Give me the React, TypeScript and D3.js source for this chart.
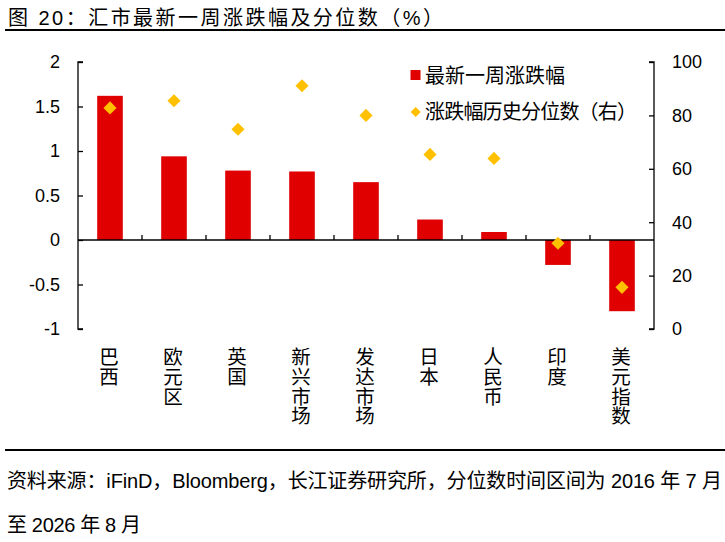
import { useEffect, useRef } from 'react';
import * as d3 from 'd3';

const categories = ['巴西', '欧元区', '英国', '新兴市场', '发达市场', '日本', '人民币', '印度', '美元指数'];
const weeklyChange = [1.62, 0.94, 0.78, 0.77, 0.65, 0.23, 0.09, -0.28, -0.8];
const percentile = [82.8, 85.5, 74.8, 91.1, 80.0, 65.4, 63.9, 32.1, 15.6];
const leftTicks = [-1, -0.5, 0, 0.5, 1, 1.5, 2];
const rightTicks = [0, 20, 40, 60, 80, 100];

const FONT = '"Liberation Sans", Arial, "Noto Sans CJK SC", sans-serif';
const BAR_COLOR = '#E00000';
const DOT_COLOR = '#FFC000';

export default function App() {
  const svgRef = useRef<SVGSVGElement>(null);

  useEffect(() => {
    if (!svgRef.current) return;
    const svg = d3.select(svgRef.current);
    svg.selectAll('*').remove();

    const width = 725;
    const height = 542;
    const plot = { left: 78, right: 654, top: 62, bottom: 329 };

    svg.attr('width', width).attr('height', height).attr('viewBox', `0 0 ${width} ${height}`);

    const xScale = d3.scaleBand()
      .domain(categories)
      .range([plot.left, plot.right])
      .paddingInner(0.6)
      .paddingOuter(0.3);

    const yLeft = d3.scaleLinear().domain([-1, 2]).range([plot.bottom, plot.top]);
    const yRight = d3.scaleLinear().domain([0, 100]).range([plot.bottom, plot.top]);

    // title
    svg.append('text')
      .attr('x', 8)
      .attr('y', 25)
      .attr('font-family', FONT)
      .attr('font-size', 20)
      .attr('fill', '#000')
      .attr('textLength', 435)
      .attr('lengthAdjust', 'spacing')
      .text('图 20：汇市最新一周涨跌幅及分位数（%）');

    svg.append('line')
      .attr('x1', 5).attr('x2', 725)
      .attr('y1', 30).attr('y2', 30)
      .attr('stroke', '#000').attr('stroke-width', 2);

    const g = svg.append('g');

    // bars
    g.selectAll('rect.bar')
      .data(categories)
      .join('rect')
      .attr('class', 'bar')
      .attr('x', (d) => xScale(d) ?? 0)
      .attr('width', xScale.bandwidth())
      .attr('y', (_d, i) => yLeft(Math.max(0, weeklyChange[i])))
      .attr('height', (_d, i) => Math.abs(yLeft(weeklyChange[i]) - yLeft(0)))
      .attr('fill', BAR_COLOR);

    // left axis
    const leftAxis = g.append('g')
      .attr('transform', `translate(${plot.left},0)`)
      .call(d3.axisRight(yLeft).tickValues(leftTicks).tickSize(5).tickFormat(() => ''));
    leftAxis.selectAll('.domain').attr('d', `M5,${plot.top}H0V${plot.bottom}H5`);
    leftAxis.selectAll('line, path').attr('stroke', '#000').attr('stroke-width', 1.3);

    leftTicks.forEach((t) => {
      g.append('text')
        .attr('x', 60)
        .attr('y', yLeft(t))
        .attr('dy', '0.36em')
        .attr('text-anchor', 'end')
        .attr('font-family', FONT)
        .attr('font-size', 18)
        .text(String(t));
    });

    // right axis
    const rightAxis = g.append('g')
      .attr('transform', `translate(${plot.right},0)`)
      .call(d3.axisLeft(yRight).tickValues(rightTicks).tickSize(5).tickFormat(() => ''));
    rightAxis.selectAll('.domain').attr('d', `M-5,${plot.top}H0V${plot.bottom}H-5`);
    rightAxis.selectAll('line, path').attr('stroke', '#000').attr('stroke-width', 1.3);

    rightTicks.forEach((t) => {
      g.append('text')
        .attr('x', 672)
        .attr('y', yRight(t))
        .attr('dy', '0.36em')
        .attr('text-anchor', 'start')
        .attr('font-family', FONT)
        .attr('font-size', 18)
        .text(String(t));
    });

    // zero line with category ticks pointing up
    const y0 = yLeft(0);
    g.append('line')
      .attr('x1', plot.left).attr('x2', plot.right)
      .attr('y1', y0).attr('y2', y0)
      .attr('stroke', '#000').attr('stroke-width', 1.3);

    const step = xScale.step();
    categories.slice(1).forEach((_c, i) => {
      const x = plot.left + (i + 1) * step;
      g.append('line')
        .attr('x1', x).attr('x2', x)
        .attr('y1', y0).attr('y2', y0 - 5)
        .attr('stroke', '#000').attr('stroke-width', 1.3);
    });

    // percentile diamonds
    const diamond = d3.symbol().type(d3.symbolSquare).size(86);
    g.selectAll('path.dot')
      .data(categories)
      .join('path')
      .attr('class', 'dot')
      .attr('d', diamond() ?? '')
      .attr('transform', (d, i) =>
        `translate(${(xScale(d) ?? 0) + xScale.bandwidth() / 2},${yRight(percentile[i])}) rotate(45)`)
      .attr('fill', DOT_COLOR);

    // vertical category labels
    g.selectAll('text.cat')
      .data(categories)
      .join('text')
      .attr('class', 'cat')
      .attr('x', (d) => (xScale(d) ?? 0) + xScale.bandwidth() / 2 - 2.5)
      .attr('y', 347)
      .attr('font-family', FONT)
      .attr('font-size', 19.5)
      .style('writing-mode', 'vertical-rl')
      .style('text-orientation', 'upright')
      .style('letter-spacing', '0.2px')
      .text((d) => d);

    // legend
    const legend = g.append('g');
    legend.append('rect')
      .attr('x', 410.5).attr('y', 70)
      .attr('width', 10).attr('height', 10)
      .attr('fill', BAR_COLOR);
    legend.append('text')
      .attr('x', 425).attr('y', 76)
      .attr('dy', '0.36em')
      .attr('font-family', FONT)
      .attr('font-size', 20)
      .text('最新一周涨跌幅');
    legend.append('path')
      .attr('d', d3.symbol().type(d3.symbolSquare).size(50)() ?? '')
      .attr('transform', 'translate(415.7,112) rotate(45)')
      .attr('fill', DOT_COLOR);
    legend.append('text')
      .attr('x', 425).attr('y', 112)
      .attr('dy', '0.36em')
      .attr('font-family', FONT)
      .attr('font-size', 20)
      .attr('textLength', 212)
      .attr('lengthAdjust', 'spacing')
      .text('涨跌幅历史分位数（右）');

    // footer
    svg.append('line')
      .attr('x1', 5).attr('x2', 725)
      .attr('y1', 450).attr('y2', 450)
      .attr('stroke', '#000').attr('stroke-width', 2);

    svg.append('text')
      .attr('x', 7).attr('y', 488)
      .attr('font-family', FONT)
      .attr('font-size', 20)
      .attr('textLength', 715)
      .attr('lengthAdjust', 'spacing')
      .text('资料来源：iFinD，Bloomberg，长江证券研究所，分位数时间区间为 2016 年 7 月');
    svg.append('text')
      .attr('x', 7).attr('y', 532)
      .attr('font-family', FONT)
      .attr('font-size', 20)
      .attr('textLength', 134)
      .attr('lengthAdjust', 'spacing')
      .text('至 2026 年 8 月');
  }, []);

  return (
    <div style={{ position: 'absolute', left: 0, top: 0 }}>
      <svg ref={svgRef} style={{ display: 'block', background: '#fff' }} />
    </div>
  );
}
